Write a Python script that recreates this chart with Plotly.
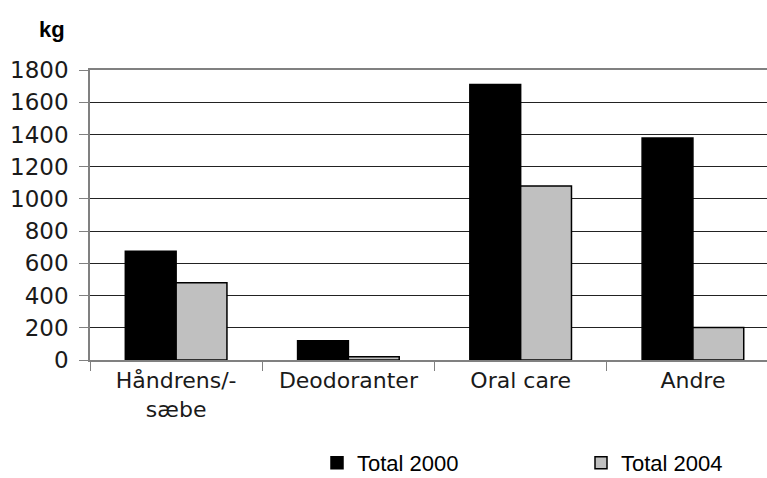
import plotly.graph_objects as go

categories = ["Håndrens/-<br>sæbe", "Deodoranter", "Oral care", "Andre"]
total_2000 = [675, 120, 1710, 1378]
total_2004 = [480, 20, 1080, 202]
y_ticks = [0, 200, 400, 600, 800, 1000, 1200, 1400, 1600, 1800]

L, R, T, B = 90, 0, 70, 118
PW, PH = 767 - L - R, 478 - T - B

fig = go.Figure()
fig.add_trace(go.Bar(x=categories, y=total_2000, name="Total 2000", legend="legend",
                     marker=dict(color="#000000", line=dict(color="#000000", width=1.5))))
fig.add_trace(go.Bar(x=categories, y=total_2004, name="Total 2004", legend="legend2",
                     marker=dict(color="#c0c0c0", line=dict(color="#000000", width=1.5))))

leg_common = dict(orientation="h", xanchor="left", yanchor="middle",
                  font=dict(family="Liberation Sans", size=22, color="#000000"),
                  bgcolor="rgba(0,0,0,0)", borderwidth=0, maxheight=1.0)

fig.update_layout(
    width=767, height=478,
    margin=dict(l=L, r=R, t=T, b=B, autoexpand=False),
    paper_bgcolor="white", plot_bgcolor="white",
    barmode="group", bargap=0.41, bargroupgap=0,
    font=dict(family="DejaVu Sans", size=21, color="#1a1a1a"),
    showlegend=True,
    legend=dict(x=(317 - L) / PW, y=(360 - 463) / PH, **leg_common),
    legend2=dict(x=(581 - L) / PW, y=(360 - 463) / PH, **leg_common),
)
fig.add_annotation(text="<b>kg</b>", xref="paper", yref="paper",
                   x=(37 - L) / PW, y=(360 - 30) / PH, xanchor="left", yanchor="middle",
                   showarrow=False, font=dict(family="Liberation Sans", size=22, color="#000000"))

fig.update_yaxes(range=[0, 1800], tickvals=y_ticks, showgrid=True, gridcolor="#222222",
                 gridwidth=1, showline=True, linecolor="#808080", linewidth=1.5,
                 ticks="outside", ticklen=9, tickcolor="#808080", automargin=False,
                 zeroline=False, tickfont=dict(size=23), ticklabelstandoff=6)
fig.update_xaxes(type="category", range=[-0.5, 3.43], showline=True, linecolor="#808080",
                 linewidth=1.5, ticks="outside", tickson="boundaries", ticklen=9,
                 tickcolor="#808080", showgrid=False, automargin=False, mirror=True,
                 tickfont=dict(size=22))

fig.write_html("out.html", config={"displayModeBar": False},
               post_script="document.body.style.margin='0';document.body.style.overflow='hidden';")
